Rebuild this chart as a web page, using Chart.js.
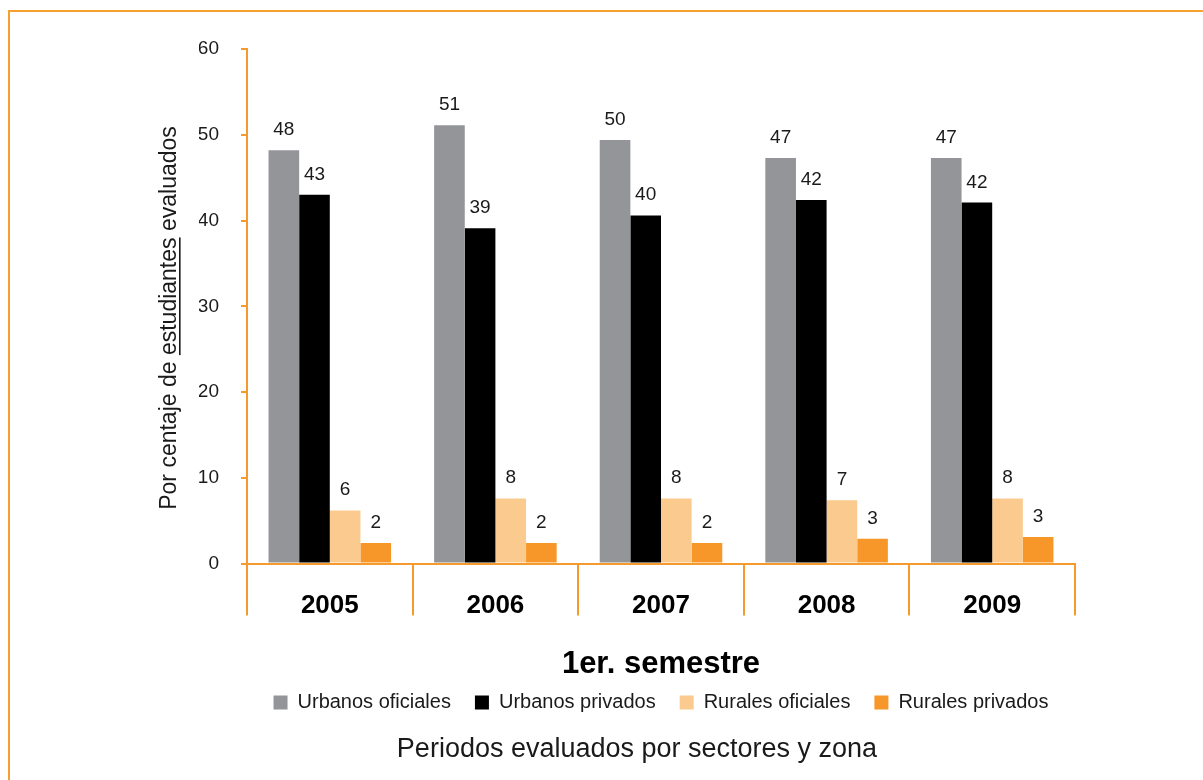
<!DOCTYPE html>
<html>
<head>
<meta charset="utf-8">
<script src="https://cdn.jsdelivr.net/npm/chart.js@4.4.1/dist/chart.umd.min.js"></script>
<style>
  body { margin: 0; background: #fff; }
  #frame { position: absolute; left: 8px; top: 10px; width: 1300px; height: 900px;
           border-top: 2px solid #F7A030; border-left: 2px solid #F7A030; }
  #wrap { position: absolute; left: 0; top: 0; width: 1203px; height: 780px; }
</style>
</head>
<body>
<div id="frame"></div>
<div id="wrap"><canvas id="chart"></canvas></div>
<script>
  // Data
  const years = ['2005', '2006', '2007', '2008', '2009'];
  const seriesNames = ['Urbanos oficiales', 'Urbanos privados', 'Rurales oficiales', 'Rurales privados'];
  const urbanosOficiales = [48.2, 51.1, 49.4, 47.3, 47.3];
  const urbanosPrivados = [43.0, 39.1, 40.6, 42.4, 42.1];
  const ruralesOficiales = [6.2, 7.6, 7.6, 7.4, 7.6];
  const ruralesPrivados = [2.4, 2.4, 2.4, 2.9, 3.1];
  // value labels as printed on the chart
  const labelsUO = ['48', '51', '50', '47', '47'];
  const labelsUP = ['43', '39', '40', '42', '42'];
  const labelsRO = ['6', '8', '8', '7', '8'];
  const labelsRP = ['2', '2', '2', '3', '3'];
  const yTicks = [0, 10, 20, 30, 40, 50, 60];

  const ORANGE = '#F59A2C';
  const FONT = "'Liberation Sans', Arial, sans-serif";
  const valueLabels = [labelsUO, labelsUP, labelsRO, labelsRP];

  // labels above each bar
  const barLabels = {
    id: 'barLabels',
    afterDatasetsDraw(chart) {
      const ctx = chart.ctx;
      ctx.save();
      ctx.font = '19px ' + FONT;
      ctx.fillStyle = '#1a1a1a';
      ctx.textAlign = 'center';
      ctx.textBaseline = 'alphabetic';
      chart.data.datasets.forEach((ds, i) => {
        chart.getDatasetMeta(i).data.forEach((bar, j) => {
          ctx.fillText(valueLabels[i][j], bar.x, bar.y - 15);
        });
      });
      ctx.restore();
    }
  };

  // rotated y title with "estudiantes" underlined
  const yTitle = {
    id: 'yTitle',
    afterDraw(chart) {
      const ctx = chart.ctx;
      const a = 'Por centaje de ';
      const b = 'estudiantes';
      const c = ' evaluados';
      ctx.save();
      ctx.font = '23px ' + FONT;
      ctx.fillStyle = '#1a1a1a';
      const wa = ctx.measureText(a).width;
      const wb = ctx.measureText(b).width;
      const wc = ctx.measureText(c).width;
      const total = wa + wb + wc;
      ctx.translate(176, 318);
      ctx.rotate(-Math.PI / 2);
      ctx.textAlign = 'left';
      ctx.textBaseline = 'alphabetic';
      const x0 = -total / 2;
      ctx.fillText(a + b + c, x0, 0);
      ctx.fillRect(x0 + wa, 3, wb, 1.6);
      ctx.restore();
    }
  };

  const ctx = document.getElementById('chart').getContext('2d');
  new Chart(ctx, {
    type: 'bar',
    data: {
      labels: years,
      datasets: [
        { label: seriesNames[0], data: urbanosOficiales, backgroundColor: '#939598' },
        { label: seriesNames[1], data: urbanosPrivados, backgroundColor: '#000000' },
        { label: seriesNames[2], data: ruralesOficiales, backgroundColor: '#FBCA8E' },
        { label: seriesNames[3], data: ruralesPrivados, backgroundColor: '#F7972A' }
      ]
    },
    options: {
      responsive: true,
      maintainAspectRatio: false,
      animation: false,
      datasets: {
        bar: { categoryPercentage: 0.74, barPercentage: 1.0, borderWidth: 0 }
      },
      layout: { padding: { left: 199, right: 128, top: 49, bottom: 0 } },
      plugins: {
        tooltip: { enabled: false },
        legend: {
          position: 'bottom',
          fullSize: false,
          labels: {
            color: '#1a1a1a',
            font: { family: FONT, size: 20 },
            boxWidth: 14,
            boxHeight: 14,
            padding: 24
          }
        },
        title: {
          display: true,
          position: 'bottom',
          text: 'Periodos evaluados por sectores y zona',
          color: '#1a1a1a',
          font: { family: FONT, size: 27, weight: 'normal' },
          padding: { top: 11, bottom: 14 }
        }
      },
      scales: {
        x: {
          grid: {
            offset: true,
            drawOnChartArea: false,
            drawTicks: true,
            tickLength: 52,
            color: ORANGE,
            lineWidth: 2
          },
          border: { color: ORANGE, width: 2 },
          ticks: {
            color: '#000',
            font: { family: FONT, size: 26, weight: 'bold' },
            padding: -25
          },
          title: {
            display: true,
            text: '1er. semestre',
            color: '#000',
            font: { family: FONT, size: 31, weight: 'bold' },
            padding: { top: 0, bottom: -14 }
          },
          afterFit(scale) { scale.height = 105; }
        },
        y: {
          min: 0,
          max: 60,
          afterBuildTicks(scale) { scale.ticks = yTicks.map(v => ({ value: v })); },
          grid: {
            drawOnChartArea: false,
            drawTicks: true,
            tickLength: 6,
            color: ORANGE,
            lineWidth: 2
          },
          border: { color: ORANGE, width: 2 },
          ticks: {
            color: '#1a1a1a',
            font: { family: FONT, size: 19 },
            padding: 22
          },
          afterFit(scale) { scale.width = 48; }
        }
      }
    },
    plugins: [barLabels, yTitle]
  });
</script>
</body>
</html>
